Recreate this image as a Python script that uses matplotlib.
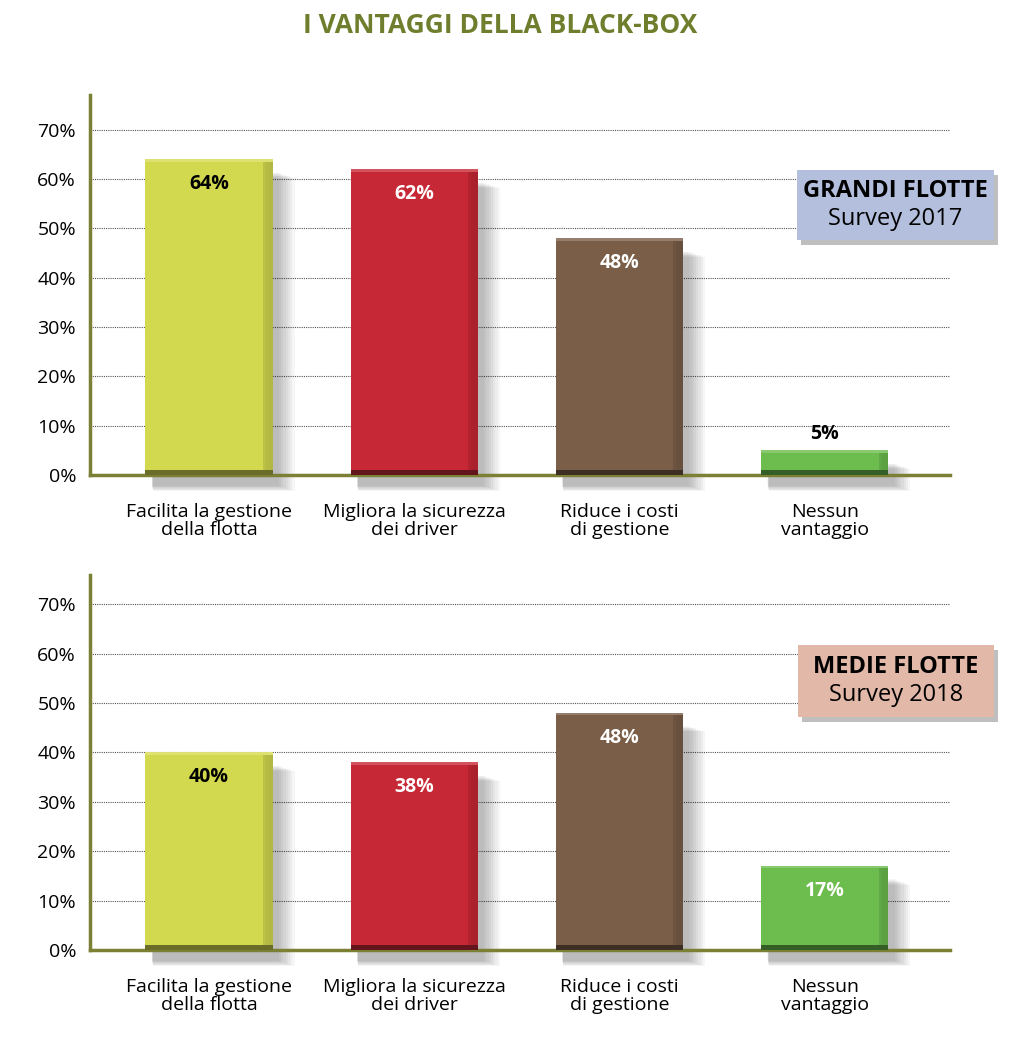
import matplotlib.pyplot as plt
import matplotlib.colors as mcolors
from matplotlib.patches import Rectangle
import numpy as np

# DATI
categorie = ["Facilita la gestione\ndella flotta", "Migliora la sicurezza\ndei driver",
             "Riduce i costi\ndi gestione", "Nessun\nvantaggio"]
valori_2017 = [64, 62, 48, 5]
valori_2018 = [40, 38, 48, 17]
colori = ["#D3D94F", "#C72835", "#7A5E48", "#6CBD4E"]
colori_testo = ["black", "white", "white", "white"]
tick_y = [0, 10, 20, 30, 40, 50, 60, 70]

plt.rcParams['font.family'] = ['Open Sans', 'DejaVu Sans']
verde_oliva = "#7B8035"

fig = plt.figure(figsize=(10.24, 10.56), dpi=100)
fig.text(0.488, 0.976, "I VANTAGGI DELLA BLACK-BOX", ha="center", va="center",
         fontsize=19, fontweight="bold", color="#6E7E2D")


def scurisci(c, f):
    r, g, b = mcolors.to_rgb(c)
    return (r * f, g * f, b * f)


def schiarisci(c, f):
    r, g, b = mcolors.to_rgb(c)
    return (r + (1 - r) * f, g + (1 - g) * f, b + (1 - b) * f)


def disegna(ax, valori, ytop):
    x = np.arange(len(valori))
    w = 0.62
    ax.set_xlim(-0.58, 3.61)
    ax.set_ylim(0, ytop)
    for t in tick_y[1:]:
        ax.axhline(t, color="#555555", linestyle=(0, (1, 1)), linewidth=0.8, zorder=0)

    # ombra sfumata
    for k in range(8):
        ax.bar(x + 0.03 + 0.006 * k, np.array(valori) - 0.5, width=w + 0.01 * k,
               bottom=-2.2 - 0.15 * k, color="black", alpha=0.035, zorder=1,
               clip_on=False, linewidth=0)

    ax.bar(x, valori, width=w, color=colori, zorder=3, linewidth=0)
    # effetto rilievo
    for i, v in enumerate(valori):
        c = colori[i]
        for k in range(4):
            ax.bar(x[i] + w * 0.5 - 0.012 * (k + 1) / 2, v, width=0.012 * (k + 1),
                   color=scurisci(c, 0.92 - 0.03 * k), alpha=0.6, zorder=4, linewidth=0)
        ax.bar(x[i], min(1.0, v * 0.25), width=w, color=scurisci(c, 0.5), zorder=4, linewidth=0)
        ax.bar(x[i], min(0.5, v * 0.1), bottom=v - min(0.5, v * 0.1), width=w,
               color=schiarisci(c, 0.2), zorder=4, linewidth=0)
        if v >= 10:
            ax.text(x[i], v - 5.0, f"{v}%", ha="center", va="center", fontsize=14,
                    fontweight="bold", color=colori_testo[i], zorder=5)
        else:
            ax.text(x[i], v + 3.3, f"{v}%", ha="center", va="center", fontsize=14,
                    fontweight="bold", color="black", zorder=5)

    for s in ["top", "right"]:
        ax.spines[s].set_visible(False)
    ax.spines["left"].set_color(verde_oliva)
    ax.spines["bottom"].set_color(verde_oliva)
    ax.spines["left"].set_linewidth(2.5)
    ax.spines["bottom"].set_linewidth(2.5)
    ax.spines["bottom"].set_zorder(2)
    ax.set_yticks(tick_y)
    ax.set_yticklabels([f"{t}%" for t in tick_y], fontsize=14)
    ax.tick_params(axis="y", length=0, pad=10)
    ax.set_xticks(x)
    ax.set_xticklabels(categorie, fontsize=14, linespacing=1.0)
    ax.tick_params(axis="x", length=0, pad=20)


def riquadro(x0, y0, w, h, colore, titolo, sotto):
    fig.patches.append(Rectangle((x0 + 0.004, y0 - 0.005), w, h, transform=fig.transFigure,
                                 fc="black", alpha=0.25, ec="none", zorder=5))
    fig.patches.append(Rectangle((x0, y0), w, h, transform=fig.transFigure,
                                 fc=colore, ec="none", zorder=6))
    fig.text(x0 + w / 2, y0 + h * 0.7, titolo, ha="center", va="center", fontsize=17,
             fontweight="bold", color="black", zorder=7)
    fig.text(x0 + w / 2, y0 + h * 0.3, sotto, ha="center", va="center", fontsize=17,
             color="black", zorder=7)


ax1 = fig.add_axes([0.0879, 0.5502, 0.8398, 0.360])
disegna(ax1, valori_2017, 77.1)

ax2 = fig.add_axes([0.0879, 0.1004, 0.8398, 0.355])
disegna(ax2, valori_2018, 75.9)

riquadro(0.778, 0.7727, 0.193, 0.0663, "#B3BFDD", "GRANDI FLOTTE", "Survey 2017")
riquadro(0.779, 0.321, 0.192, 0.068, "#E2B8A8", "MEDIE FLOTTE", "Survey 2018")

plt.savefig("out.png", dpi=100)
